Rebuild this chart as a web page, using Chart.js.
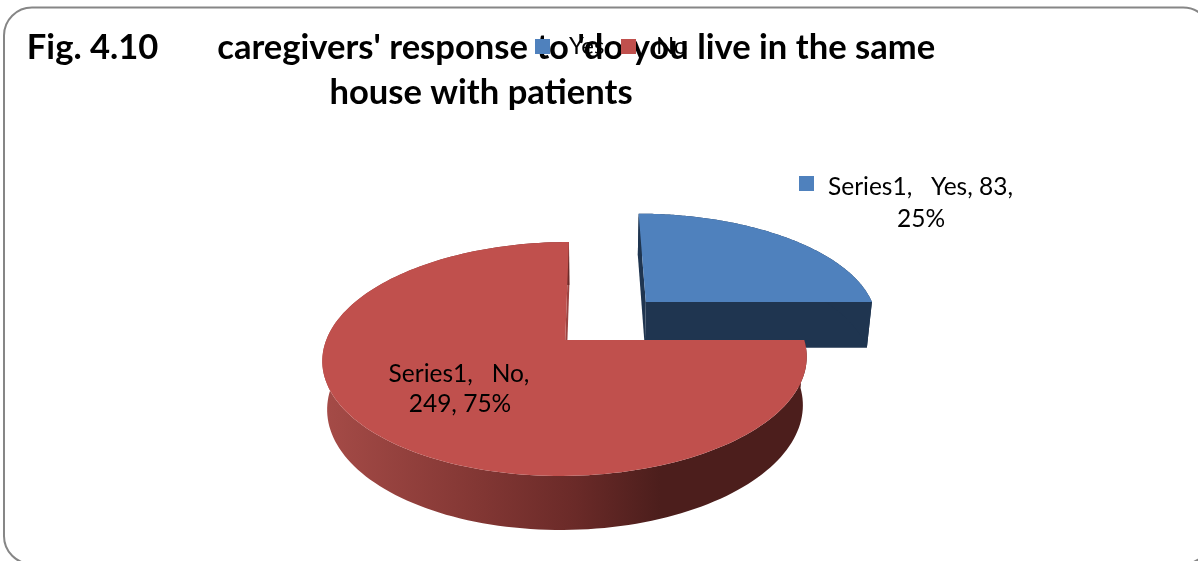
<!DOCTYPE html>
<html><head><meta charset="utf-8">
<style>html,body{margin:0;padding:0;background:#fff;overflow:hidden}#w{position:relative;width:1198px;height:561px}</style>
<script src="https://cdn.jsdelivr.net/npm/chart.js@4/dist/chart.umd.min.js"></script>
</head><body><div id="w"><canvas id="c" width="1198" height="561"></canvas></div>
<script>
const seriesName = 'Series1';
const categories = ['Yes', 'No'];
const values = [83, 249];
const titleLines = ["Fig. 4.10       caregivers' response to 'do you live in the same", 'house with patients'];
const sliceColors = ['#4F81BD', '#C0504D'];

const FONT = 'Lato, Carlito, Calibri, sans-serif';
// perspective view of the pie plane
const view = {x0: 592, k: 0.162, top: {a: 239, b: 113.9, y0: 340}, bottom: {a: 234.7, b: 119.3, y0: 387.6}};
const explode = [{x: 0.238, y: -0.352}, {x: -0.112, y: 0}];
const sideFlat = ['#1F3550', '#9C4340'];

function project(px, py, plane) {
  const w = 1 - view.k * py;
  return [view.x0 + plane.a * px / w, plane.y0 + plane.b * py / w];
}
function rim(arc, i, plane, n) {
  const pts = [];
  for (let s = 0; s <= n; s++) {
    const t = arc.startAngle + (arc.endAngle - arc.startAngle) * s / n;
    pts.push(project(explode[i].x + Math.cos(t), explode[i].y + Math.sin(t), plane));
  }
  return pts;
}
function poly(ctx, pts, fill) {
  ctx.beginPath();
  pts.forEach((p, j) => j ? ctx.lineTo(p[0], p[1]) : ctx.moveTo(p[0], p[1]));
  ctx.closePath();
  ctx.fillStyle = fill;
  ctx.fill();
}
function drawSlice(ctx, arc, i) {
  const n = 160;
  const top = rim(arc, i, view.top, n), bot = rim(arc, i, view.bottom, n);
  const aT = project(explode[i].x, explode[i].y, view.top);
  const aB = project(explode[i].x, explode[i].y, view.bottom);
  // cut faces
  poly(ctx, [aT, top[0], bot[0], aB], sideFlat[i]);
  poly(ctx, [aT, top[n], bot[n], aB], sideFlat[i]);
  // outer wall
  let wall = sideFlat[i];
  if (i === 1) {
    wall = ctx.createLinearGradient(325, 0, 660, 0);
    wall.addColorStop(0, '#A54B47');
    wall.addColorStop(0.45, '#833734');
    wall.addColorStop(0.75, '#6A2A28');
    wall.addColorStop(1, '#4C1E1C');
  }
  poly(ctx, top.concat(bot.slice().reverse()), wall);
  // top face
  poly(ctx, [aT].concat(top), arc.options.backgroundColor);
}

const scenePlugin = {
  id: 'scene',
  beforeDraw(chart) {
    const ctx = chart.ctx;
    ctx.save();
    ctx.beginPath();
    ctx.roundRect(4, 7.5, 1207, 556.5, 28);
    ctx.lineWidth = 2;
    ctx.strokeStyle = '#868686';
    ctx.stroke();
    ctx.restore();
  },
  beforeLayout(chart) {
    // the legend sits on top of the title, as in the original
    const l = chart.legend;
    l._layers = () => [{z: 1, draw: area => l.draw(area)}];
  },
  afterLayout(chart) {
    const t = chart.titleBlock;
    t.left = 0; t.right = 962; t.top = 25.4; t.bottom = 116;
    const l = chart.legend;
    l.left = 517.5; l.right = 760; l.top = 25; l.bottom = 70;
  },
  beforeDatasetsDraw(chart) {
    chart.getDatasetMeta(0).data.forEach((arc, i) => {
      arc.draw = function (ctx) { drawSlice(ctx, arc, i); };
    });
  },
  afterDraw(chart) {
    const ctx = chart.ctx;
    const total = values.reduce((a, b) => a + b, 0);
    const pct = v => Math.round(v / total * 100) + '%';
    ctx.save();
    ctx.font = '24.5px ' + FONT;
    ctx.fillStyle = '#000';
    ctx.textAlign = 'center';
    ctx.textBaseline = 'middle';
    ctx.fillText(`${seriesName},   ${categories[0]}, ${values[0]},`, 920.5, 187);
    ctx.fillText(pct(values[0]), 921, 219);
    ctx.fillText(`${seriesName},   ${categories[1]},`, 459, 374);
    ctx.fillText(`${values[1]}, ${pct(values[1])}`, 460, 404);
    ctx.fillStyle = sliceColors[0];
    ctx.fillRect(799, 176, 15, 15);
    ctx.restore();
  }
};

function swatch(color) {
  const s = document.createElement('canvas');
  s.width = 15; s.height = 15;
  const g = s.getContext('2d');
  g.fillStyle = color;
  g.fillRect(0, 0, 15, 15);
  return s;
}

new Chart(document.getElementById('c'), {
  type: 'pie',
  data: {labels: categories, datasets: [{label: seriesName, data: values, backgroundColor: sliceColors, borderWidth: 0}]},
  plugins: [scenePlugin],
  options: {
    responsive: false,
    animation: false,
    plugins: {
      tooltip: {enabled: false},
      title: {display: true, text: titleLines, color: '#000', font: {family: FONT, size: 34.6, weight: 'bold', lineHeight: 1.3}, padding: 0},
      legend: {
        display: true, position: 'top', align: 'start',
        labels: {
          color: '#000', font: {family: FONT, size: 24}, padding: 9.5,
          usePointStyle: true, pointStyleWidth: 30, boxHeight: 15,
          generateLabels: c => c.data.labels.map((t, i) => ({text: t, pointStyle: swatch(sliceColors[i]), fillStyle: sliceColors[i], strokeStyle: sliceColors[i], lineWidth: 0, index: i, hidden: false, fontColor: '#000'}))
        }
      }
    }
  }
});
</script></body></html>
